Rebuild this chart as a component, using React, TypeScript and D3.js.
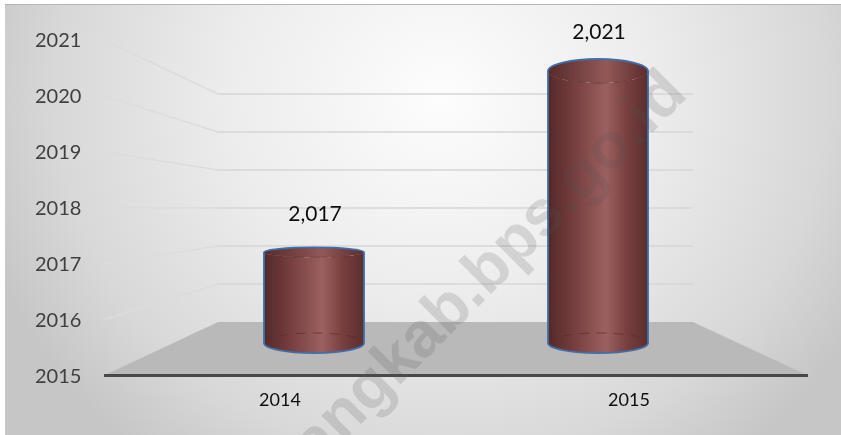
import React from "react";
import * as d3 from "d3";

const categories = ["2014", "2015"];
const values = [2017, 2021];
const valueLabels = ["2,017", "2,021"];
const yTicks = [2015, 2016, 2017, 2018, 2019, 2020, 2021];
const watermark = "angkab.bps.go.id";

const W = 841, H = 435;
const yFront = d3.scaleLinear().domain([2015, 2021]).range([375.5, 40]);
const yBack = d3.scaleLinear().domain([2015, 2021]).range([322, 94]);
const yMid = d3.scaleLinear().domain([2015, 2021]).range([343, 71]);
const ryAt = d3.scaleLinear().domain([2015, 2017, 2021]).range([10, 5, 12]);
const xMid = d3.scalePoint<string>().domain(categories).range([314, 598]);
const xTick = d3.scalePoint<string>().domain(categories).range([280, 629]);
const R = 50;
const front = { l: 104, r: 808 };
const back = { l: 218, r: 693 };
const font = "Lato, 'Open Sans', sans-serif";

function Cylinder({ cat, value, label }: { cat: string; value: number; label: string }) {
  const cx = xMid(cat)!;
  const top = yMid(value);
  const bot = yMid(2015);
  const rt = ryAt(value), rb = ryAt(2015);
  const body = `M${cx - R},${top} L${cx - R},${bot} A${R},${rb} 0 0 0 ${cx + R},${bot} L${cx + R},${top} A${R},${rt} 0 0 1 ${cx - R},${top} Z`;
  return (
    <g>
      <path d={body} fill="url(#cyl)" />
      <ellipse cx={cx} cy={top} rx={R} ry={rt} fill="url(#cap)" />
      <path d={`M${cx - R},${top} A${R},${rt} 0 0 0 ${cx + R},${top}`} fill="none" stroke="#5c2b2b" strokeWidth={1} strokeDasharray="18 5" opacity={0.6} />
      <path d={`M${cx - R},${bot} A${R},${rb} 0 0 1 ${cx + R},${bot}`} fill="none" stroke="#552828" strokeWidth={1} strokeDasharray="10 7" opacity={0.6} />
      <path d={`M${cx - R},${top} A${R},${rt} 0 0 1 ${cx + R},${top} L${cx + R},${bot} A${R},${rb} 0 0 1 ${cx - R},${bot} Z`} fill="none" stroke="#3f6ea8" strokeWidth={1.8} strokeLinejoin="round" />
      <text x={cx + 1} y={top - (value === 2017 ? 31 : 32)} textAnchor="middle" fontSize={21} fill="#111" fontFamily={font}>{label}</text>
    </g>
  );
}

export default function App() {
  return (
    <svg width={W} height={H} viewBox={`0 0 ${W} ${H}`} style={{ position: "fixed", left: 0, top: 0 }}>
      <defs>
        <radialGradient id="bg" gradientUnits="userSpaceOnUse" cx={440} cy={70} r={480} gradientTransform="translate(0 30) scale(1 0.95)">
          <stop offset="0" stopColor="#fdfdfd" />
          <stop offset="0.45" stopColor="#ececec" />
          <stop offset="0.8" stopColor="#d8d8d8" />
          <stop offset="1" stopColor="#c6c6c6" />
        </radialGradient>
        <linearGradient id="cyl" x1="0" x2="1" y1="0" y2="0">
          <stop offset="0" stopColor="#532a2a" />
          <stop offset="0.2" stopColor="#6e3838" />
          <stop offset="0.58" stopColor="#9c6060" />
          <stop offset="0.8" stopColor="#763d3d" />
          <stop offset="1" stopColor="#5a2e2e" />
        </linearGradient>
        <linearGradient id="cap" x1="0" x2="1" y1="0" y2="0">
          <stop offset="0" stopColor="#552a2a" />
          <stop offset="0.58" stopColor="#935858" />
          <stop offset="1" stopColor="#5a2c2c" />
        </linearGradient>
        <filter id="soft" x="-5%" y="-5%" width="110%" height="110%">
          <feGaussianBlur stdDeviation="0.45" />
        </filter>
      </defs>
      <rect width={W} height={H} fill="#fff" />
      <rect x={5} y={4} width={W - 5} height={H - 4} fill="url(#bg)" />
      <line x1={5} x2={W} y1={4.5} y2={4.5} stroke="#b5b5b5" />
      <g filter="url(#soft)">
        <path
          d={`M${front.l},${yFront(2015)} L${back.l},${yBack(2015)} L${back.r},${yBack(2015)} L${front.r},${yFront(2015)} Z`}
          fill="#b9b9b9"
        />
        {yTicks.slice(1).map(t => (
          <g key={t} fill="none" strokeWidth={1.4}>
            <line x1={front.l} y1={yFront(t)} x2={back.l} y2={yBack(t)} stroke="#dcdcdc" />
            <line x1={back.l} y1={yBack(t)} x2={back.r} y2={yBack(t)} stroke="#d6d6d6" />
          </g>
        ))}
        <line x1={front.l} x2={front.r} y1={yFront(2015)} y2={yFront(2015)} stroke="#4a4a4a" strokeWidth={3} />
        {categories.map((c, i) => (
          <Cylinder key={c} cat={c} value={values[i]} label={valueLabels[i]} />
        ))}
        {yTicks.map(t => (
          <text key={t} x={35} y={yFront(t) + 7} fontSize={20} fill="#404040" fontFamily={font}>{t}</text>
        ))}
        {categories.map(c => (
          <text key={c} x={xTick(c)} y={406} fontSize={18} fill="#111" fontFamily={font} textAnchor="middle">{c}</text>
        ))}
      </g>
      <text
        transform="translate(317 468) rotate(-45)"
        fontSize={64}
        fontWeight={700}
        fontFamily="'Liberation Sans', sans-serif"
        fill="#555"
        fillOpacity={0.18}
      >{watermark}</text>
    </svg>
  );
}
